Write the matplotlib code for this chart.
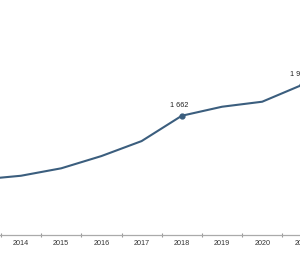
import numpy as np
import matplotlib
matplotlib.use('Agg')
import matplotlib.pyplot as plt

plt.rcParams['font.family'] = ['Liberation Sans', 'DejaVu Sans']

years = [2013, 2014, 2015, 2016, 2017, 2018, 2019, 2020, 2021]
values = [1053, 1089, 1160, 1277, 1420, 1662, 1748, 1796, 1958]
labelled = {2018: '1 662', 2021: '1 958'}

line_color = '#3b5e7e'

fig = plt.figure(figsize=(3.0, 2.62), dpi=100)
# axes run past the right edge, the picture is a crop of a wider chart
ax = fig.add_axes([0, 27.3 / 262, 1.2, 234.7 / 262])

ax.plot(years, values, color=line_color, linewidth=1.5, solid_joinstyle='round',
        clip_on=False)

for yr, txt in labelled.items():
    v = values[years.index(yr)]
    ax.plot(yr, v, marker='o', markersize=3.5, color=line_color, clip_on=False)
    ax.annotate(txt, (yr, v), xytext=(-2, 5), textcoords='offset points',
                ha='center', va='bottom', fontsize=5.2, color='#222222',
                annotation_clip=False)

ax.set_xticks(years)
ax.set_xticklabels([str(y) for y in years])
ax.set_xticks(np.array(years) + 0.5, minor=True)
ax.tick_params(axis='x', which='major', length=0, pad=4, labelsize=5.2,
               labelcolor='#333333')
ax.tick_params(axis='x', which='minor', length=3, direction='inout',
               color='#999999', width=0.8)
ax.set_yticks([])

# limits after the ticks, set_xticks would widen them again
ax.set_xlim(2014 - 21 / 40.2, 2014 + 339 / 40.2)
ax.set_ylim(526, 526 + 234.7 * 9.55)

for s in ['top', 'right', 'left']:
    ax.spines[s].set_visible(False)
ax.spines['bottom'].set_color('#aaaaaa')
ax.spines['bottom'].set_linewidth(0.9)

fig.savefig('out.png', dpi=100)
